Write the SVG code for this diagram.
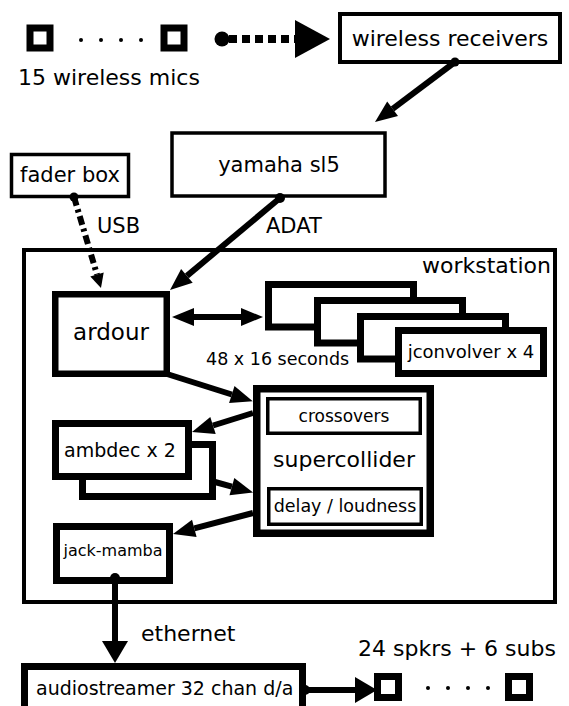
<svg xmlns="http://www.w3.org/2000/svg" width="569" height="706" viewBox="0 0 569 706">
<style>
text{font-family:"DejaVu Sans","Liberation Sans",sans-serif;fill:#000}
.box{fill:#fff;stroke:#000}
.c{text-anchor:middle}
.ln{fill:none;stroke:#000;stroke-width:6}
.dot{fill:#000}
</style>
<defs>
<marker id="ah" markerUnits="userSpaceOnUse" viewBox="0 -9 22 18" refX="0" refY="0" markerWidth="22" markerHeight="18" orient="auto-start-reverse" overflow="visible">
<path d="M0,-9 L22,0 L0,9 Z" fill="#000"/>
</marker>
<marker id="ahs" markerUnits="userSpaceOnUse" viewBox="0 -7 14 14" refX="0" refY="0" markerWidth="14" markerHeight="14" orient="auto" overflow="visible">
<path d="M0,-7 L14,0 L0,7 Z" fill="#000"/>
</marker>
<marker id="ahb" markerUnits="userSpaceOnUse" viewBox="0 -13 22 26" refX="0" refY="0" markerWidth="22" markerHeight="26" orient="auto" overflow="visible">
<path d="M0,-13 L22,0 L0,13 Z" fill="#000"/>
</marker>
</defs>
<rect width="569" height="706" fill="#fff"/>

<g id="mics">
<rect class="box" x="30" y="28" width="20" height="20" stroke-width="7"/>
<circle class="dot" cx="81" cy="40" r="2"/>
<circle class="dot" cx="101" cy="40" r="2"/>
<circle class="dot" cx="121" cy="40" r="2"/>
<circle class="dot" cx="141" cy="40" r="2"/>
<rect class="box" x="164" y="28" width="20" height="20" stroke-width="7"/>
<text x="18" y="85" font-size="22">15 wireless mics</text>
</g>

<g id="wireless-receivers">
<rect class="box" x="340" y="14" width="220" height="48" stroke-width="4"/>
<text class="c" x="450" y="46" font-size="22">wireless receivers</text>
</g>

<g id="yamaha">
<rect class="box" x="172" y="133" width="213" height="63" stroke-width="3.5"/>
<text class="c" x="279" y="172" font-size="21">yamaha sl5</text>
</g>

<g id="fader-box">
<rect class="box" x="11.5" y="154.5" width="117" height="42" stroke-width="3.5"/>
<text class="c" x="70" y="182" font-size="21">fader box</text>
</g>

<g id="workstation">
<rect x="24" y="250" width="531" height="352" fill="none" stroke="#000" stroke-width="4"/>
<text x="551" y="273" font-size="22" text-anchor="end">workstation</text>
</g>

<g id="ardour">
<rect class="box" x="55.25" y="294.25" width="111.5" height="79.5" stroke-width="6.5"/>
<text class="c" x="111" y="340" font-size="23">ardour</text>
</g>

<g id="jconvolver">
<rect class="box" x="268.5" y="284.5" width="145" height="42.5" stroke-width="7"/>
<rect class="box" x="317.5" y="300.5" width="145" height="42.5" stroke-width="7"/>
<rect class="box" x="360.5" y="316.5" width="145" height="42.5" stroke-width="7"/>
<rect class="box" x="398.5" y="330.5" width="145" height="43" stroke-width="7"/>
<text class="c" x="471" y="358" font-size="18">jconvolver x 4</text>
</g>
<text x="206" y="365" font-size="17.5">48 x 16 seconds</text>

<g id="supercollider">
<rect class="box" x="256.75" y="388.75" width="173.5" height="144.5" stroke-width="7.5"/>
<rect class="box" x="267.75" y="398.75" width="152.5" height="34.5" stroke-width="3.5"/>
<text class="c" x="344" y="422" font-size="17">crossovers</text>
<text class="c" x="344" y="467" font-size="22">supercollider</text>
<rect class="box" x="268.75" y="488.75" width="152.5" height="35.5" stroke-width="3.5"/>
<text class="c" x="345" y="512" font-size="17.5">delay / loudness</text>
</g>

<g id="ambdec">
<rect class="box" x="82.5" y="444.5" width="130" height="52" stroke-width="7"/>
<rect class="box" x="55.5" y="423.5" width="133" height="53" stroke-width="7"/>
<text class="c" x="120" y="457" font-size="19">ambdec x 2</text>
</g>

<g id="jack-mamba">
<rect class="box" x="56.5" y="526.5" width="113" height="54" stroke-width="7"/>
<text class="c" x="113" y="556" font-size="16">jack-mamba</text>
</g>

<g id="audiostreamer">
<rect class="box" x="24.5" y="666.5" width="278" height="50" stroke-width="7"/>
<text x="36" y="695" font-size="19">audiostreamer 32 chan d/a</text>
</g>

<g id="speakers">
<rect class="box" x="377.5" y="676.5" width="21" height="21" stroke-width="7"/>
<circle class="dot" cx="428" cy="688" r="2"/>
<circle class="dot" cx="448" cy="688" r="2"/>
<circle class="dot" cx="468" cy="688" r="2"/>
<circle class="dot" cx="488" cy="688" r="2"/>
<rect class="box" x="508.5" y="676.5" width="21" height="21" stroke-width="7"/>
<text x="358" y="656" font-size="22">24 spkrs + 6 subs</text>
</g>

<g id="connectors">
<circle class="dot" cx="222" cy="39" r="7.5"/>
<line x1="229" y1="39" x2="296" y2="39" stroke="#000" stroke-width="8" stroke-dasharray="8 5"/>
<polygon points="295,20 330,39 295,58" fill="#000"/>

<circle class="dot" cx="455" cy="62" r="4.5"/>
<line class="ln" x1="455" y1="62" x2="392.6" y2="108.8" stroke-width="5" marker-end="url(#ah)"/>

<circle class="dot" cx="74" cy="197" r="4.5"/>
<line class="ln" x1="74" y1="197" x2="97" y2="274.6" stroke-width="4" stroke-dasharray="9 4 3 4" marker-end="url(#ahs)"/>
<text x="97" y="233" font-size="21">USB</text>

<circle class="dot" cx="280" cy="198" r="5"/>
<line class="ln" x1="280" y1="198" x2="186.9" y2="275.9" marker-end="url(#ah)"/>
<text x="266" y="233" font-size="21">ADAT</text>

<line class="ln" x1="194" y1="317" x2="241" y2="317" marker-start="url(#ah)" marker-end="url(#ah)"/>

<line class="ln" x1="167" y1="374" x2="231.8" y2="394.5" marker-end="url(#ah)"/>
<line class="ln" x1="253" y1="413" x2="213" y2="425.5" marker-end="url(#ah)"/>
<line class="ln" x1="215" y1="482" x2="231.9" y2="486.7" marker-end="url(#ah)"/>
<line class="ln" x1="253" y1="513" x2="194.3" y2="528.4" marker-end="url(#ah)"/>

<circle class="dot" cx="115" cy="578" r="5"/>
<line class="ln" x1="115" y1="578" x2="115" y2="641" marker-end="url(#ahb)"/>
<text x="141" y="641" font-size="22">ethernet</text>

<circle class="dot" cx="305" cy="690" r="5"/>
<line class="ln" x1="305" y1="690" x2="355" y2="690" stroke-width="5" marker-end="url(#ahb)"/>
</g>
</svg>
